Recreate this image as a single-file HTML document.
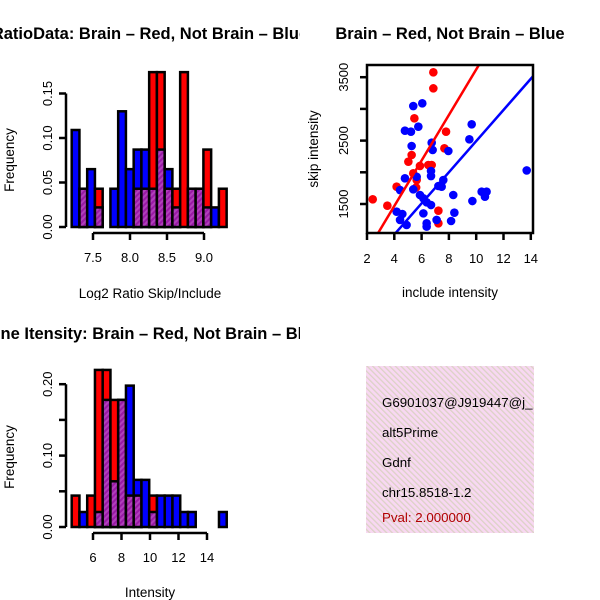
<!DOCTYPE html>
<html><head><meta charset="utf-8"><style>
html,body{margin:0;padding:0;background:#fff}
svg{display:block;font-family:"Liberation Sans",sans-serif}
</style></head><body>
<svg id="root" width="600" height="600" viewBox="0 0 600 600">
<defs>
<pattern id="hatchP" patternUnits="userSpaceOnUse" width="4" height="4" patternTransform="rotate(45)">
<rect width="4" height="4" fill="#9a1aa6"/><rect width="2" height="4" fill="#b040bb"/></pattern>
<pattern id="hatchPink" patternUnits="userSpaceOnUse" width="4" height="4" patternTransform="rotate(-45)">
<rect width="4" height="4" fill="#f8d8f2"/><rect width="1.3" height="4" fill="#dcd2c6"/></pattern>
<clipPath id="c1"><rect x="0" y="0" width="300" height="300"/></clipPath>
<clipPath id="c3"><rect x="0" y="300" width="300" height="300"/></clipPath>
<clipPath id="cbox"><rect x="367" y="65" width="166" height="168"/></clipPath>
<clipPath id="cinfo"><rect x="366" y="366" width="168" height="167"/></clipPath>
</defs>
<g id="p1" clip-path="url(#c1)"></g>
<g id="p2"></g>
<g id="p3" clip-path="url(#c3)"></g>
<g id="p4">
<rect x="366" y="366" width="168" height="167" fill="url(#hatchPink)"/>
<g clip-path="url(#cinfo)" font-size="13.3">
<text x="382" y="407">G6901037@J919447@j_</text>
<text x="382" y="437">alt5Prime</text>
<text x="382" y="467">Gdnf</text>
<text x="382" y="497">chr15.8518-1.2</text>
<text x="382" y="522" fill="#b00000">Pval: 2.000000</text>
</g></g>
</svg>
<script>
const NS="http://www.w3.org/2000/svg";
// Ratio histogram data
const ratioBinStart=7.212;
const ratioBinWidth=0.1047;
const ratioBlue=[0.109,0.043,0.065,0.022,0,0.043,0.130,0.065,0.087,0.087,0.043,0.087,0.065,0.022,0,0.043,0.043,0.022,0.022,0];
const ratioRed=[0,0.043,0,0.043,0,0,0,0,0.043,0.043,0.174,0.174,0.043,0.043,0.174,0.043,0.043,0.087,0,0.043];
const ratioXTicks=[7.5,8.0,8.5,9.0];
const ratioXTickLabels=["7.5","8.0","8.5","9.0"];
const ratioYTicks=[0,0.05,0.10,0.15];
const ratioYTickLabels=["0.00","0.05","0.10","0.15"];
// Intensity histogram data
const intBinStart=4.505;
const intBinWidth=0.544;
const intBlue=[0,0.021,0,0.021,0.178,0.064,0.178,0.198,0.066,0.066,0.021,0.044,0.044,0.044,0.021,0.021,0,0,0,0.021];
const intRed=[0.044,0,0.044,0.22,0.22,0.178,0.178,0.044,0.044,0,0.044,0,0,0,0,0,0,0,0,0];
const intXTicks=[6,8,10,12,14];
const intXTickLabels=["6","8","10","12","14"];
const intYTicks=[0,0.10,0.20];
const intYTickLabels=["0.00","0.10","0.20"];
const intYMinor=[0.05,0.15];
// Scatter data
const redX=[6.86,6.86,5.47,7.79,7.67,5.27,5.03,6.49,6.74,5.39,5.64,4.17,2.42,3.49,7.23,7.23,5.88,5.6];
const redY=[3577,3324,2851,2640,2378,2273,2168,2115,2115,1984,1878,1773,1574,1473,1394,1196,2100,1760];
const blueX=[5.39,6.05,9.67,5.76,4.78,5.22,9.50,6.74,5.27,6.81,7.96,6.69,6.69,13.70,4.78,5.64,7.59,7.23,7.47,4.42,5.39,5.88,6.13,8.32,10.40,10.76,10.64,9.72,6.37,6.69,4.17,4.59,6.13,8.40,4.42,4.90,6.37,7.10,8.16,6.37];
const blueY=[3045,3088,2757,2720,2656,2640,2520,2467,2415,2352,2336,2020,1941,2030,1905,1930,1878,1784,1773,1720,1731,1642,1590,1642,1694,1694,1615,1547,1526,1484,1379,1342,1352,1363,1248,1169,1143,1248,1232,1196];
const redFit=[32,359];
const blueFit=[36,245.6];
const scXTicks=[2,4,6,8,10,12,14];
const scYTicks=[1500,2000,2500,3000,3500];
const scYTickLabels=["1500","","2500","","3500"];

function mk(parent,tag,attrs,text){const e=document.createElementNS(NS,tag);for(const k in attrs)e.setAttribute(k,attrs[k]);if(text!==undefined)e.textContent=text;parent.appendChild(e);return e;}

function hist(g,cfg){
  const xs=v=>cfg.x0+(v-cfg.d0)*cfg.kx;
  const ys=v=>cfg.y0-v*cfg.ky;
  cfg.blue.forEach((b,i)=>{
    const r=cfg.red[i];const lo=xs(cfg.start+i*cfg.bw),hi=xs(cfg.start+(i+1)*cfg.bw);
    const mx=Math.max(b,r),mn=Math.min(b,r);
    if(mx>0){
      const e=mk(g,'rect',{x:lo,y:ys(mx),width:hi-lo,height:ys(0)-ys(mx),fill:(r>b?'#ff0000':'#0000ff'),stroke:'#000','stroke-width':2.5});
      
      
    }
    if(mn>0){
      const e=mk(g,'rect',{x:lo,y:ys(mn),width:hi-lo,height:ys(0)-ys(mn),fill:'url(#hatchP)',stroke:'#000','stroke-width':2.5});
      
      
    }
  });
  const xa=mk(g,'line',{x1:xs(cfg.xt[0]),x2:xs(cfg.xt[cfg.xt.length-1]),y1:cfg.axY,y2:cfg.axY,stroke:'#000','stroke-width':2.5});
  
  
  cfg.xt.forEach((t,i)=>{
    mk(g,'line',{x1:xs(t),x2:xs(t),y1:cfg.axY,y2:cfg.axY+7,stroke:'#000','stroke-width':2.5});
    const l=mk(g,'text',{x:xs(t),y:cfg.axY+29,'text-anchor':'middle','font-size':13},cfg.xl[i]);
    
    
  });
  const allY=cfg.yt.concat(cfg.ym||[]);
  const ya=mk(g,'line',{x1:cfg.axX,x2:cfg.axX,y1:ys(0),y2:ys(Math.max(...allY)),stroke:'#000','stroke-width':2.5});
  
  
  allY.forEach(t=>mk(g,'line',{x1:cfg.axX-7,x2:cfg.axX,y1:ys(t),y2:ys(t),stroke:'#000','stroke-width':2.5}));
  cfg.yt.forEach((t,i)=>{
    const l=mk(g,'text',{x:0,y:0,transform:`translate(${cfg.axX-14},${ys(t)}) rotate(-90)`,'text-anchor':'middle','font-size':13},cfg.yl[i]);
    
    
  });
}

const p1=document.getElementById('p1');
hist(p1,{x0:93,d0:7.5,kx:74,y0:227,ky:890,start:ratioBinStart,bw:ratioBinWidth,blue:ratioBlue,red:ratioRed,xt:ratioXTicks,xl:ratioXTickLabels,yt:ratioYTicks,yl:ratioYTickLabels,axY:233,axX:66});
let t=mk(p1,'text',{x:150,y:39,'text-anchor':'middle','font-size':16.5,'font-weight':'bold'},'RatioData: Brain \u2013 Red, Not Brain \u2013 Blue');

t=mk(p1,'text',{x:150,y:298,'text-anchor':'middle','font-size':13.5},'Log2 Ratio Skip/Include');

t=mk(p1,'text',{x:0,y:0,transform:'translate(14,160) rotate(-90)','text-anchor':'middle','font-size':13.5},'Frequency');


const p3=document.getElementById('p3');
hist(p3,{x0:93,d0:6,kx:14.25,y0:527,ky:714,start:intBinStart,bw:intBinWidth,blue:intBlue,red:intRed,xt:intXTicks,xl:intXTickLabels,yt:intYTicks,yl:intYTickLabels,ym:intYMinor,axY:533,axX:66});
t=mk(p3,'text',{x:150,y:339,'text-anchor':'middle','font-size':16.5,'font-weight':'bold'},'Gene Itensity: Brain \u2013 Red, Not Brain \u2013 Blue');

t=mk(p3,'text',{x:150,y:597,'text-anchor':'middle','font-size':13.5},'Intensity');

t=mk(p3,'text',{x:0,y:0,transform:'translate(14,457) rotate(-90)','text-anchor':'middle','font-size':13.5},'Frequency');


// scatter
const p2=document.getElementById('p2');
const sx=v=>367+(v-2)*13.65;
const sy=v=>204-(v-1500)*0.0634;
const pts=mk(p2,'g',{'clip-path':'url(#cbox)'});


redX.forEach((x,i)=>{
  const c=mk(pts,'circle',{cx:sx(x),cy:sy(redY[i]),r:4.3,fill:'#ff0000'});
  
  
});
blueX.forEach((x,i)=>{
  const c=mk(pts,'circle',{cx:sx(x),cy:sy(blueY[i]),r:4.3,fill:'#0000ff'});
  
  
});
[[redFit,'#ff0000','brain-fit-line'],[blueFit,'#0000ff','not-brain-fit-line']].forEach(([f,col,nm])=>{
  const l=mk(pts,'line',{x1:sx(0),y1:sy(f[0]),x2:sx(16),y2:sy(f[0]+16*f[1]),stroke:col,'stroke-width':2.5});
  
  
});
const box=mk(p2,'rect',{x:367,y:65,width:166,height:168,fill:'none',stroke:'#000','stroke-width':2.5});


scXTicks.forEach(v=>{
  mk(p2,'line',{x1:sx(v),x2:sx(v),y1:233,y2:240,stroke:'#000','stroke-width':2.5});
  const l=mk(p2,'text',{x:sx(v),y:263,'text-anchor':'middle','font-size':13},String(v));
  
  
});
scYTicks.forEach((v,i)=>{
  mk(p2,'line',{x1:360,x2:367,y1:sy(v),y2:sy(v),stroke:'#000','stroke-width':2.5});
  if(scYTickLabels[i]){
    const l=mk(p2,'text',{x:0,y:0,transform:`translate(348,${sy(v)}) rotate(-90)`,'text-anchor':'middle','font-size':13},scYTickLabels[i]);
    
    
  }
});
t=mk(p2,'text',{x:450,y:39,'text-anchor':'middle','font-size':16.5,'font-weight':'bold'},'Brain \u2013 Red, Not Brain \u2013 Blue');

t=mk(p2,'text',{x:450,y:297,'text-anchor':'middle','font-size':13.5},'include intensity');

t=mk(p2,'text',{x:0,y:0,transform:'translate(318,149) rotate(-90)','text-anchor':'middle','font-size':13.5},'skip intensity');

</script>
</body></html>
